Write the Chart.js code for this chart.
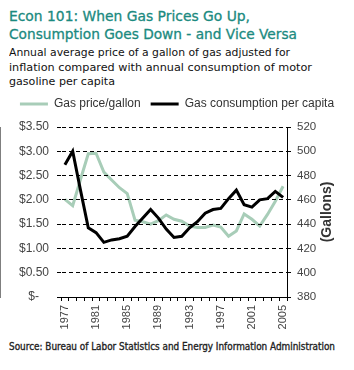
<!DOCTYPE html>
<html>
<head>
<meta charset="utf-8">
<script src="https://cdn.jsdelivr.net/npm/chart.js@4.4.1/dist/chart.umd.min.js"></script>
<style>
html, body { margin: 0; padding: 0; background: #fff; }
body { width: 354px; height: 370px; position: relative; overflow: hidden; font-family: "DejaVu Sans", Verdana, sans-serif; }
.t { position: absolute; left: 9px; white-space: nowrap; transform-origin: 0 0; }
.title { color: #1b8a80; font-size: 13.6px; line-height: 18px; -webkit-text-stroke: 0.3px #1b8a80; }
.sub { color: #111; font-size: 10.8px; line-height: 14.4px; }
.src { color: #222; font-size: 10px; line-height: 12px; -webkit-text-stroke: 0.35px #222; }
#wrap { position: absolute; left: 0; top: 88px; width: 354px; height: 249px; }
</style>
</head>
<body>
<div class="t title" style="top:7px" data-w="241">Econ 101: When Gas Prices Go Up,</div>
<div class="t title" style="top:25px" data-w="288">Consumption Goes Down - and Vice Versa</div>
<div class="t sub" style="top:46.4px" data-w="281">Annual average price of a gallon of gas adjusted for</div>
<div class="t sub" style="top:60.8px" data-w="303">inflation compared with annual consumption of motor</div>
<div class="t sub" style="top:75.2px" data-w="106">gasoline per capita</div>
<div id="wrap"><canvas id="gasChart" width="354" height="249"></canvas></div>
<div class="t src" style="top:340.5px" data-w="326">Source: Bureau of Labor Statistics and Energy Information Administration</div>

<script>
const years = ['1977', '1978', '1979', '1980', '1981', '1982', '1983', '1984', '1985', '1986',
    '1987', '1988', '1989', '1990', '1991', '1992', '1993', '1994', '1995', '1996',
    '1997', '1998', '1999', '2000', '2001', '2002', '2003', '2004', '2005'];

// Цена галлона, доллары с поправкой на инфляцию
const gasPrice = [2.01, 1.88, 2.42, 2.95, 2.96, 2.57, 2.41, 2.25, 2.13, 1.58,
    1.55, 1.50, 1.57, 1.69, 1.60, 1.56, 1.46, 1.43, 1.43, 1.48,
    1.44, 1.25, 1.36, 1.71, 1.60, 1.46, 1.70, 1.97, 2.28];

// Потребление на душу населения, галлоны
const gasConsumption = [489, 500, 468, 437, 433, 425, 427, 428, 430, 438,
    445, 452, 445, 436, 429, 430, 437, 442, 449, 452,
    453, 461, 468, 456, 454, 460, 461, 467, 462];

const priceTickLabels = ['$-   ', '$0.50', '$1.00', '$1.50', '$2.00', '$2.50', '$3.00', '$3.50'];
const gallonTickLabels = ['380', '400', '420', '440', '460', '480', '500', '520'];

// подгоняем ширину строк заголовка под оригинал
document.querySelectorAll('[data-w]').forEach(el => {
    const w = el.getBoundingClientRect().width;
    el.style.transform = 'scaleX(' + (el.dataset.w / w) + ')';
});

const axisFont = '"Liberation Sans", Arial, sans-serif';
Chart.defaults.font.family = axisFont;
Chart.defaults.color = '#444';

// подпись правой оси, снизу вверх
const gallonsTitle = {
    id: 'gallonsTitle',
    afterDraw(chart) {
        const ctx = chart.ctx;
        const area = chart.chartArea;
        ctx.save();
        ctx.translate(chart.scales.y1.left + 40, (area.top + area.bottom) / 2);
        ctx.rotate(-Math.PI / 2);
        ctx.font = 'bold 14px ' + axisFont;
        ctx.fillStyle = '#333';
        ctx.textAlign = 'center';
        ctx.textBaseline = 'middle';
        ctx.fillText('(Gallons)', 0, 0);
        ctx.restore();
    }
};

// немного места под легендой
const legendGap = {
    id: 'legendGap',
    afterInit(chart) {
        const fit = chart.legend.fit;
        chart.legend.fit = function () {
            fit.call(this);
            this.height += 7;
        };
    }
};

const ctx = document.getElementById('gasChart').getContext('2d');

new Chart(ctx, {
    type: 'line',
    data: {
        labels: years,
        datasets: [{
            label: 'Gas price/gallon',
            data: gasPrice,
            yAxisID: 'y',
            borderColor: '#a8cdb8',
            backgroundColor: '#a8cdb8',
            borderWidth: 3,
            pointRadius: 0,
            tension: 0,
            order: 2
        }, {
            label: 'Gas consumption per capita',
            data: gasConsumption,
            yAxisID: 'y1',
            borderColor: '#000',
            backgroundColor: '#000',
            borderWidth: 3,
            pointRadius: 0,
            tension: 0,
            order: 1
        }]
    },
    options: {
        responsive: false,
        animation: false,
        devicePixelRatio: 1,
        layout: { padding: 0 },
        plugins: {
            tooltip: { enabled: false },
            legend: {
                position: 'top',
                labels: {
                    usePointStyle: true,
                    pointStyle: 'line',
                    pointStyleWidth: 28,
                    boxHeight: 12,
                    padding: 10,
                    color: '#333',
                    font: { size: 12 },
                    sort: (a, b) => a.datasetIndex - b.datasetIndex
                }
            }
        },
        scales: {
            x: {
                offset: true,
                grid: { offset: true, drawOnChartArea: false, tickLength: 4, color: '#000', lineWidth: 1 },
                border: { color: '#000', width: 1 },
                ticks: {
                    autoSkip: false,
                    minRotation: 90,
                    maxRotation: 90,
                    padding: 4,
                    font: { size: 11 },
                    callback: (v, i) => (i % 4 === 0 ? years[i] : '')
                },
                afterFit: s => { s.height = 40; }
            },
            y: {
                position: 'left',
                min: 0,
                max: 3.5,
                grid: { color: '#000', lineWidth: 1, tickLength: 4, z: 1 },
                border: { color: '#000', width: 1, dash: () => [4, 3], dashOffset: 0 },
                ticks: {
                    stepSize: 0.5,
                    padding: 8,
                    font: { size: 12 },
                    callback: (v, i) => priceTickLabels[i]
                },
                afterFit: s => { s.width = 61; }
            },
            y1: {
                position: 'right',
                min: 380,
                max: 520,
                grid: { drawOnChartArea: false, color: '#000', lineWidth: 1, tickLength: 4 },
                border: { color: '#000', width: 1 },
                ticks: {
                    stepSize: 20,
                    padding: 6,
                    font: { size: 11.5 },
                    callback: (v, i) => gallonTickLabels[i]
                },
                afterFit: s => { s.width = 67; }
            }
        }
    },
    plugins: [gallonsTitle, legendGap]
});
</script>
</body>
</html>
